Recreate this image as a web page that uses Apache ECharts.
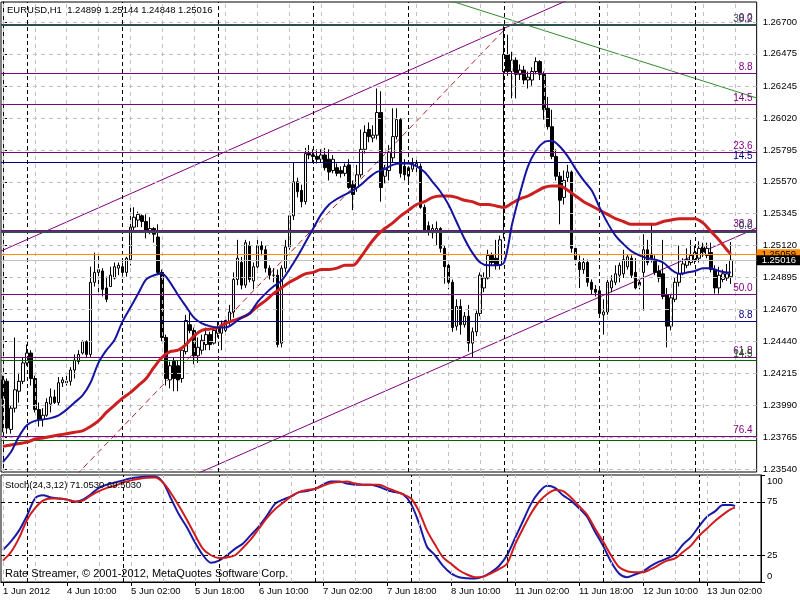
<!DOCTYPE html>
<html><head><meta charset="utf-8">
<script src="https://cdn.jsdelivr.net/npm/echarts@6/dist/echarts.min.js"></script>
<style>html,body{margin:0;padding:0;background:#fff}#c{width:800px;height:600px}</style>
</head><body><div id="c"></div>
<script>
// ---- Candles (H1 EURUSD, 1 Jun 18:00 .. 13 Jun 09:00) ----
const opens=[1.2417,1.2416,1.2382,1.2397,1.2409,1.2416,1.2429,1.2436,1.2418,1.2396,
1.2389,1.2392,1.2400,1.2405,1.2401,1.2415,1.2416,1.2416,1.2424,1.2430,
1.2436,1.2444,1.2435,1.2486,1.2493,1.2494,1.2482,1.2483,1.2489,1.2496,
1.2497,1.2493,1.2502,1.2525,1.2530,1.2533,1.2529,1.2522,1.2524,1.2518,
1.2493,1.2447,1.2417,1.2430,1.2427,1.2418,1.2437,1.2456,1.2452,1.2434,
1.2438,1.2442,1.2449,1.2443,1.2450,1.2450,1.2452,1.2458,1.2465,1.2488,
1.2500,1.2484,1.2512,1.2487,1.2497,1.2512,1.2509,1.2496,1.2491,1.2491,
1.2443,1.2496,1.2511,1.2533,1.2557,1.2551,1.2543,1.2577,1.2576,1.2575,
1.2573,1.2576,1.2573,1.2565,1.2567,1.2565,1.2563,1.2569,1.2555,1.2553,
1.2562,1.2580,1.2594,1.2588,1.2590,1.2606,1.2561,1.2565,1.2574,1.2589,
1.2601,1.2568,1.2561,1.2566,1.2568,1.2568,1.2539,1.2526,1.2521,1.2522,
1.2524,1.2510,1.2498,1.2486,1.2455,1.2469,1.2456,1.2462,1.2443,1.2451,
1.2464,1.2482,1.2489,1.2505,1.2503,1.2498,1.2635,1.2647,1.2635,1.2643,
1.2633,1.2636,1.2629,1.2629,1.2635,1.2642,1.2633,1.2609,1.2596,1.2575,
1.2561,1.2546,1.2560,1.2564,1.2510,1.2500,1.2495,1.2500,1.2486,1.2481,
1.2480,1.2463,1.2465,1.2482,1.2486,1.2491,1.2492,1.2497,1.2503,1.2493,
1.2486,1.2493,1.2509,1.2506,1.2502,1.2494,1.2492,1.2477,1.2455,1.2474,
1.2486,1.2492,1.2498,1.2500,1.2502,1.2503,1.2511,1.2505,1.2507,1.2495,
1.2482,1.2488,1.2489,1.24899];
const highs=[1.2420,1.2418,1.2399,1.2447,1.2422,1.2433,1.2442,1.2438,1.2420,1.2401,
1.2397,1.2404,1.2411,1.2410,1.2419,1.2419,1.2421,1.2426,1.2435,1.2438,
1.2445,1.2445,1.2497,1.2507,1.2507,1.2496,1.2490,1.2497,1.2500,1.2500,
1.2500,1.2504,1.2539,1.2539,1.2536,1.2534,1.2534,1.2532,1.2525,1.2527,
1.2495,1.2449,1.2430,1.2433,1.2431,1.2440,1.2463,1.2466,1.2454,1.2447,
1.2449,1.2454,1.2451,1.2454,1.2458,1.2459,1.2462,1.2470,1.2493,1.2516,
1.2504,1.2516,1.2515,1.2500,1.2518,1.2515,1.2512,1.2498,1.2496,1.2495,
1.2498,1.2516,1.2536,1.2571,1.2560,1.2555,1.2581,1.2583,1.2580,1.2580,
1.2580,1.2581,1.2580,1.2576,1.2570,1.2568,1.2570,1.2573,1.2558,1.2569,
1.2594,1.2597,1.2599,1.2597,1.2623,1.2621,1.2569,1.2583,1.2609,1.2609,
1.2602,1.2573,1.2568,1.2574,1.2573,1.2570,1.2541,1.2529,1.2527,1.2529,
1.2525,1.2512,1.2500,1.2488,1.2474,1.2474,1.2465,1.2470,1.2454,1.2466,
1.2493,1.2493,1.2509,1.2507,1.2516,1.2519,1.2667,1.2661,1.2649,1.2645,
1.2640,1.2639,1.2635,1.2638,1.2645,1.2643,1.2635,1.2617,1.2608,1.2580,
1.2564,1.2565,1.2569,1.2565,1.2512,1.2505,1.2503,1.2502,1.2488,1.2484,
1.2482,1.2474,1.2489,1.2491,1.2498,1.2500,1.2509,1.2506,1.2505,1.2503,
1.2489,1.2520,1.2516,1.2528,1.2505,1.2498,1.2516,1.2482,1.2477,1.2489,
1.2512,1.2503,1.2510,1.2516,1.2512,1.2515,1.2514,1.2514,1.2514,1.2498,
1.2497,1.2495,1.2499,1.25144];
const lows=[1.2380,1.2379,1.2379,1.2394,1.2401,1.2414,1.2427,1.2413,1.2394,1.2384,
1.2384,1.2391,1.2394,1.2400,1.2399,1.2412,1.2413,1.2413,1.2418,1.2428,
1.2435,1.2433,1.2433,1.2483,1.2478,1.2476,1.2472,1.2483,1.2488,1.2491,
1.2490,1.2490,1.2498,1.2521,1.2525,1.2525,1.2517,1.2520,1.2514,1.2491,
1.2444,1.2413,1.2411,1.2409,1.2409,1.2415,1.2435,1.2450,1.2428,1.2429,
1.2435,1.2438,1.2438,1.2442,1.2447,1.2438,1.2449,1.2456,1.2461,1.2484,
1.2481,1.2482,1.2486,1.2481,1.2493,1.2505,1.2493,1.2488,1.2486,1.2440,
1.2440,1.2493,1.2509,1.2530,1.2546,1.2539,1.2541,1.2573,1.2571,1.2570,
1.2571,1.2565,1.2558,1.2563,1.2561,1.2560,1.2561,1.2552,1.2537,1.2550,
1.2560,1.2577,1.2585,1.2585,1.2587,1.2543,1.2556,1.2558,1.2571,1.2587,
1.2560,1.2558,1.2556,1.2564,1.2564,1.2538,1.2522,1.2519,1.2517,1.2512,
1.2507,1.2485,1.2481,1.2451,1.2452,1.2449,1.2454,1.2437,1.2433,1.2448,
1.2462,1.2479,1.2488,1.2498,1.2495,1.2495,1.2517,1.2632,1.2616,1.2616,
1.2629,1.2626,1.2623,1.2625,1.2633,1.2629,1.2601,1.2594,1.2573,1.2558,
1.2527,1.2541,1.2557,1.2507,1.2498,1.2482,1.2492,1.2483,1.2477,1.2476,
1.2461,1.2449,1.2463,1.2479,1.2484,1.2486,1.2489,1.2495,1.2489,1.2481,
1.2481,1.2466,1.2498,1.2500,1.2491,1.2486,1.2474,1.2440,1.2452,1.2472,
1.2483,1.2491,1.2496,1.2498,1.2499,1.2500,1.2504,1.2503,1.2493,1.2478,
1.2478,1.2486,1.2487,1.24848];
const closes=[1.2404,1.2383,1.2397,1.2410,1.2416,1.2429,1.2436,1.2418,1.2396,1.2389,
1.2392,1.2401,1.2405,1.2401,1.2415,1.2417,1.2415,1.2424,1.2431,1.2435,
1.2444,1.2435,1.2486,1.2493,1.2495,1.2481,1.2474,1.2491,1.2497,1.2498,
1.2493,1.2503,1.2525,1.2532,1.2534,1.2529,1.2523,1.2524,1.2520,1.2493,
1.2447,1.2418,1.2427,1.2418,1.2417,1.2438,1.2459,1.2452,1.2434,1.2440,
1.2445,1.2449,1.2442,1.2452,1.2454,1.2456,1.2459,1.2465,1.2488,1.2503,
1.2484,1.2514,1.2488,1.2497,1.2512,1.2509,1.2496,1.2491,1.2491,1.2442,
1.2496,1.2511,1.2533,1.2557,1.2550,1.2543,1.2577,1.2576,1.2575,1.2573,
1.2576,1.2567,1.2564,1.2573,1.2563,1.2563,1.2568,1.2553,1.2548,1.2562,
1.2580,1.2592,1.2589,1.2590,1.2606,1.2553,1.2567,1.2578,1.2589,1.2601,
1.2563,1.2562,1.2567,1.2570,1.2570,1.2539,1.2523,1.2522,1.2524,1.2524,
1.2510,1.2497,1.2486,1.2454,1.2469,1.2456,1.2462,1.2443,1.2451,1.2464,
1.2491,1.2489,1.2505,1.2500,1.2498,1.2516,1.2647,1.2635,1.2643,1.2633,
1.2636,1.2629,1.2631,1.2635,1.2642,1.2633,1.2608,1.2596,1.2575,1.2561,
1.2544,1.2558,1.2564,1.2510,1.2502,1.2495,1.2500,1.2486,1.2481,1.2479,
1.2464,1.2465,1.2486,1.2487,1.2492,1.2498,1.2502,1.2504,1.2491,1.2482,
1.2484,1.2509,1.2500,1.2503,1.2493,1.2489,1.2476,1.2455,1.2475,1.2486,
1.2492,1.2499,1.2502,1.2505,1.2507,1.2510,1.2507,1.2510,1.2495,1.2482,
1.2491,1.2492,1.2492,1.25016];

// ---- Moving averages (read every 2nd bar, plus last bar) ----
const maBlue=[1.2359,1.2366,1.2377,1.2385,1.2388,1.2389,1.2390,1.2392,1.2396,1.2401,
1.2406,1.2415,1.2429,1.2438,1.2445,1.2458,1.2468,1.2478,1.2488,1.2491,
1.2492,1.2486,1.2477,1.2469,1.2461,1.2457,1.2455,1.2454,1.2454,1.2457,
1.2461,1.2464,1.2472,1.2478,1.2483,1.2487,1.2495,1.2504,1.2514,1.2524,
1.2534,1.2541,1.2545,1.2548,1.2551,1.2555,1.2560,1.2564,1.2566,1.2569,
1.2570,1.2570,1.2568,1.2564,1.2557,1.2550,1.2541,1.2529,1.2517,1.2507,
1.2500,1.2498,1.2498,1.2500,1.2527,1.2549,1.2568,1.2579,1.2585,1.2586,
1.2582,1.2575,1.2566,1.2558,1.2551,1.2539,1.2528,1.2519,1.2513,1.2508,
1.2505,1.2503,1.2502,1.2500,1.2495,1.2492,1.2493,1.2494,1.2496,1.2496,
1.2494,1.2493,1.2493];
const maRed=[1.2370,1.2371,1.2372,1.2373,1.2375,1.2376,1.2377,1.2378,1.2379,1.2380,
1.2381,1.2384,1.2388,1.2394,1.2399,1.2404,1.2408,1.2413,1.2418,1.2426,
1.2433,1.2437,1.2438,1.2442,1.2448,1.2452,1.2453,1.2454,1.2457,1.2459,
1.2461,1.2464,1.2469,1.2473,1.2478,1.2482,1.2486,1.2489,1.2492,1.2493,
1.2495,1.2495,1.2496,1.2498,1.2498,1.2504,1.2512,1.2519,1.2524,1.2528,
1.2533,1.2537,1.2541,1.2543,1.2546,1.2547,1.2547,1.2546,1.2544,1.2543,
1.2541,1.2541,1.2540,1.2539,1.2542,1.2545,1.2547,1.2550,1.2553,1.2554,
1.2554,1.2551,1.2547,1.2543,1.2540,1.2537,1.2534,1.2531,1.2529,1.2527,
1.2527,1.2527,1.2527,1.2529,1.2530,1.2531,1.2531,1.2531,1.2528,1.2522,
1.2516,1.2509,1.2506];

// ---- Stochastic (24,3,12), same sampling ----
const stochMain=[30,38,48,62,78,81,79,78,77,75,
77,82,88,91,93,95,97,98,98.5,98.6,
93,78,63,51,37,25,18,20,25,31,
36,44,52,62,73,77,80,84,85,87,
91,94,94,92,91,91,91,89,86,84,
82,73,55,33,25,15,8,4.5,3.5,3.3,
5,9,15,25,41,57,73,84,90,88,
81,76,69,61,47,34,19,8,4.5,7,
10,15,19,22,26,35,42,52,61,66,
72,72,71.053];
const stochSignal=[20,28,41,58,69,76,78,78,77,75,
76,81,85,88,90,93,95,96.5,97.5,97.6,
93,83,71,58,44,31,25,22.5,23,25,
32,40,50,60,68,74,80,84,86,87,
90,92.5,93.5,94,92,91,91,91,88,85,
82,78,66,48,35,23,17,11,7,4.5,
5,8,12,17,35,50,64,75,82,86,
85,79,71,63,50,38,25,14,10,9,
9,12,16,20,22,28,34,43,50,57,
63,68,69.503];

// ---- Axis ticks / labels ----
const timeLabels=['1 Jun 2012','4 Jun 10:00','5 Jun 02:00','5 Jun 18:00','6 Jun 10:00','7 Jun 02:00','7 Jun 18:00','8 Jun 10:00','11 Jun 02:00','11 Jun 18:00','12 Jun 10:00','13 Jun 02:00'];
const priceTicks=[1.26700,1.26475,1.26245,1.26020,1.25795,1.25570,1.25345,1.25120,1.24895,1.24670,1.24440,1.24215,1.23990,1.23765,1.23540];
const stochTicks=[100,75,25,0];
const stochLevels=[75,25];
const daySeparatorBars=[6,30,54,78,102,126,150,174];

// ---- Chart objects: horizontal levels and trend lines ----
const levelPrices=[1.26686,1.26679,1.26340,1.26121,1.25781,1.25711,1.25225,1.25214,1.24776,1.24587,1.24327,1.24311,1.23772,1.23745];
const levelTexts=['0.0','38.2','8.8','14.5','23.6','14.5','38.2','0.0','50.0','8.8','61.8','14.5','76.4',''];
const levelKinds=['purple','dark','purple','purple','purple','navy','purple','dark','purple','navy','purple','green','purple','green'];
const askPrice=1.25059, bidPrice=1.25016;
const channelUpper=[[-0.5,1.25081],[149.5,1.26948]];
const channelLower=[[36.75,1.23358],[189.5,1.25244]];
const redTrend=[[16.75,1.23448],[126.75,1.26665]];
const greenTrend=[[109.25,1.26879],[189.5,1.26163]];

const FONT='Liberation Sans';
const N=190;
const cats=Array.from({length:N},(_,i)=>'b'+i);
const candleData=opens.map((o,i)=>[o,closes[i],lows[i],highs[i]]);
const sampleBars=Array.from({length:92},(_,k)=>2*k).concat([183]);
const pair=arr=>arr.map((v,k)=>[cats[sampleBars[k]],v]);
const gridBars=[];for(let i=0;i<=184;i+=8)gridBars.push(i);

const kindStyle={
  purple:{color:'#800080',width:1},
  dark:{color:'#2f4f4f',width:2},
  navy:{color:'#000080',width:1},
  green:{color:'#006400',width:1}
};
const levelLines=levelPrices.map((p,i)=>({
  yAxis:p,
  lineStyle:{color:kindStyle[levelKinds[i]].color,width:kindStyle[levelKinds[i]].width,type:'solid'},
  label:{show:levelTexts[i]!=='',position:'insideEndTop',formatter:levelTexts[i],
    color:kindStyle[levelKinds[i]].color,fontSize:10,fontFamily:FONT,distance:[4,1]}
}));
const priceLines=[
  {yAxis:askPrice,lineStyle:{color:'#ff8c00',width:1,type:'solid'},
   label:{show:true,position:'end',formatter:askPrice.toFixed(5),backgroundColor:'#ff8c00',color:'#000',
     fontSize:9.5,fontFamily:FONT,padding:[1,4,0,5],lineHeight:9,distance:0}},
  {yAxis:bidPrice,lineStyle:{color:'#c0c0c0',width:1,type:'solid'},
   label:{show:true,position:'end',formatter:bidPrice.toFixed(5),backgroundColor:'#000',color:'#fff',
     fontSize:9.5,fontFamily:FONT,padding:[1,4,0,5],lineHeight:9,distance:0}}
];
const ML={silent:true,symbol:['none','none'],animation:false,precision:6};

const chart=echarts.init(document.getElementById('c'));
chart.setOption({
  animation:false,
  backgroundColor:'#fff',
  textStyle:{fontFamily:FONT},
  grid:[
    {left:1,top:2,width:760,height:470,show:true,borderColor:'#000',borderWidth:1,backgroundColor:'#fff'},
    {left:1,top:475,width:760,height:107,show:true,borderColor:'#000',borderWidth:1,backgroundColor:'#fff'}
  ],
  xAxis:[
    {type:'category',gridIndex:0,data:cats,boundaryGap:true,axisLine:{show:false},axisTick:{show:false},axisLabel:{show:false},splitLine:{show:false}},
    {type:'category',gridIndex:1,data:cats,boundaryGap:true,
     axisLine:{show:true,lineStyle:{color:'#000'}},
     axisTick:{show:true,alignWithLabel:true,length:4,interval:(i)=>i%16===0&&i/16<timeLabels.length,lineStyle:{color:'#000'}},
     axisLabel:{show:true,interval:(i)=>i%16===0&&i/16<timeLabels.length,formatter:(v,i)=>timeLabels[i/16]||'',
       align:'left',color:'#000',fontSize:9.5,fontFamily:FONT,margin:4},
     splitLine:{show:false}},
    {type:'value',gridIndex:0,min:-0.5,max:189.5,show:false}
  ],
  yAxis:[
    {type:'value',gridIndex:0,position:'right',min:1.23519,max:1.268414,scale:true,
     axisLine:{show:true,lineStyle:{color:'#000'}},
     axisTick:{show:true,length:4,customValues:priceTicks,lineStyle:{color:'#000'}},
     axisLabel:{show:true,customValues:priceTicks,formatter:v=>v.toFixed(5),color:'#000',fontSize:9.5,fontFamily:FONT,margin:6},
     splitLine:{show:false}},
    {type:'value',gridIndex:1,position:'right',min:0,max:100,
     axisLine:{show:true,lineStyle:{color:'#000'}},
     axisTick:{show:true,length:4,customValues:stochTicks,lineStyle:{color:'#000'}},
     axisLabel:{show:true,customValues:stochTicks,lineHeight:12,
       formatter:v=>v===100?'\n100':(v===0?'0\n':String(v)),color:'#000',fontSize:9.5,fontFamily:FONT,margin:6},
     splitLine:{show:false}}
  ],
  series:[
    {type:'line',xAxisIndex:0,yAxisIndex:0,data:[],z:1,silent:true,
     markLine:Object.assign({},ML,{label:{show:false},
       lineStyle:{color:'#c0c0c0',type:[4,4],width:1},
       data:priceTicks.map(v=>({yAxis:v})).concat(gridBars.map(i=>({xAxis:cats[i]})))})},
    {type:'line',xAxisIndex:1,yAxisIndex:1,data:[],z:1,silent:true,
     markLine:Object.assign({},ML,{label:{show:false},
       lineStyle:{color:'#c0c0c0',type:[4,4],width:1},
       data:gridBars.map(i=>({xAxis:cats[i]}))})},
    {type:'line',xAxisIndex:0,yAxisIndex:0,data:[],z:2,silent:true,
     markLine:Object.assign({},ML,{label:{show:false},
       lineStyle:{color:'#000',type:[4,3],width:1},
       data:daySeparatorBars.map(i=>({xAxis:cats[i]}))})},
    {type:'line',xAxisIndex:1,yAxisIndex:1,data:[],z:2,silent:true,
     markLine:Object.assign({},ML,{label:{show:false},
       lineStyle:{color:'#000',type:[4,3],width:1},
       data:daySeparatorBars.map(i=>({xAxis:cats[i]})).concat(stochLevels.map(v=>({yAxis:v})))})},
    {type:'line',xAxisIndex:0,yAxisIndex:0,data:[],z:3,silent:true,
     markLine:Object.assign({},ML,{data:levelLines})},
    {type:'line',xAxisIndex:2,yAxisIndex:0,data:channelUpper,symbol:'none',z:3,silent:true,lineStyle:{color:'#800080',width:1}},
    {type:'line',xAxisIndex:2,yAxisIndex:0,data:channelLower,symbol:'none',z:3,silent:true,lineStyle:{color:'#800080',width:1}},
    {type:'line',xAxisIndex:2,yAxisIndex:0,data:redTrend,symbol:'none',z:3,silent:true,lineStyle:{color:'#b22222',width:1,type:[6,4]}},
    {type:'line',xAxisIndex:2,yAxisIndex:0,data:greenTrend,symbol:'none',z:3,silent:true,lineStyle:{color:'#2e8b2e',width:1}},
    {type:'candlestick',xAxisIndex:0,yAxisIndex:0,data:candleData,barWidth:3,z:4,
     itemStyle:{color:'#fff',color0:'#000',borderColor:'#000',borderColor0:'#000',borderWidth:1}},
    {type:'line',xAxisIndex:0,yAxisIndex:0,data:pair(maRed),symbol:'none',smooth:0.3,z:5,lineStyle:{color:'#cc1f1f',width:3}},
    {type:'line',xAxisIndex:0,yAxisIndex:0,data:pair(maBlue),symbol:'none',smooth:0.3,z:6,lineStyle:{color:'#1414a0',width:2}},
    {type:'line',xAxisIndex:0,yAxisIndex:0,data:[],z:7,silent:true,
     markLine:Object.assign({},ML,{data:priceLines})},
    {type:'line',xAxisIndex:1,yAxisIndex:1,data:pair(stochSignal),symbol:'none',smooth:0.3,z:5,lineStyle:{color:'#d01c1c',width:2}},
    {type:'line',xAxisIndex:1,yAxisIndex:1,data:pair(stochMain),symbol:'none',smooth:0.3,z:4,lineStyle:{color:'#1a1aa8',width:2}}
  ],
  graphic:[
    {type:'text',left:7,top:5,z:100,style:{text:'EURUSD,H1  1.24899 1.25144 1.24848 1.25016',fontSize:9.5,fontFamily:FONT,fill:'#000'}},
    {type:'text',left:5,top:480,z:100,style:{text:'Stoch(24,3,12) 71.0530 69.5030',fontSize:9.5,fontFamily:FONT,fill:'#000'}},
    {type:'text',left:5,top:568,z:100,style:{text:'Rate Streamer, \u00a9 2001-2012, MetaQuotes Software Corp.',fontSize:11,fontFamily:FONT,fill:'#000'}}
  ]
});
</script></body></html>
